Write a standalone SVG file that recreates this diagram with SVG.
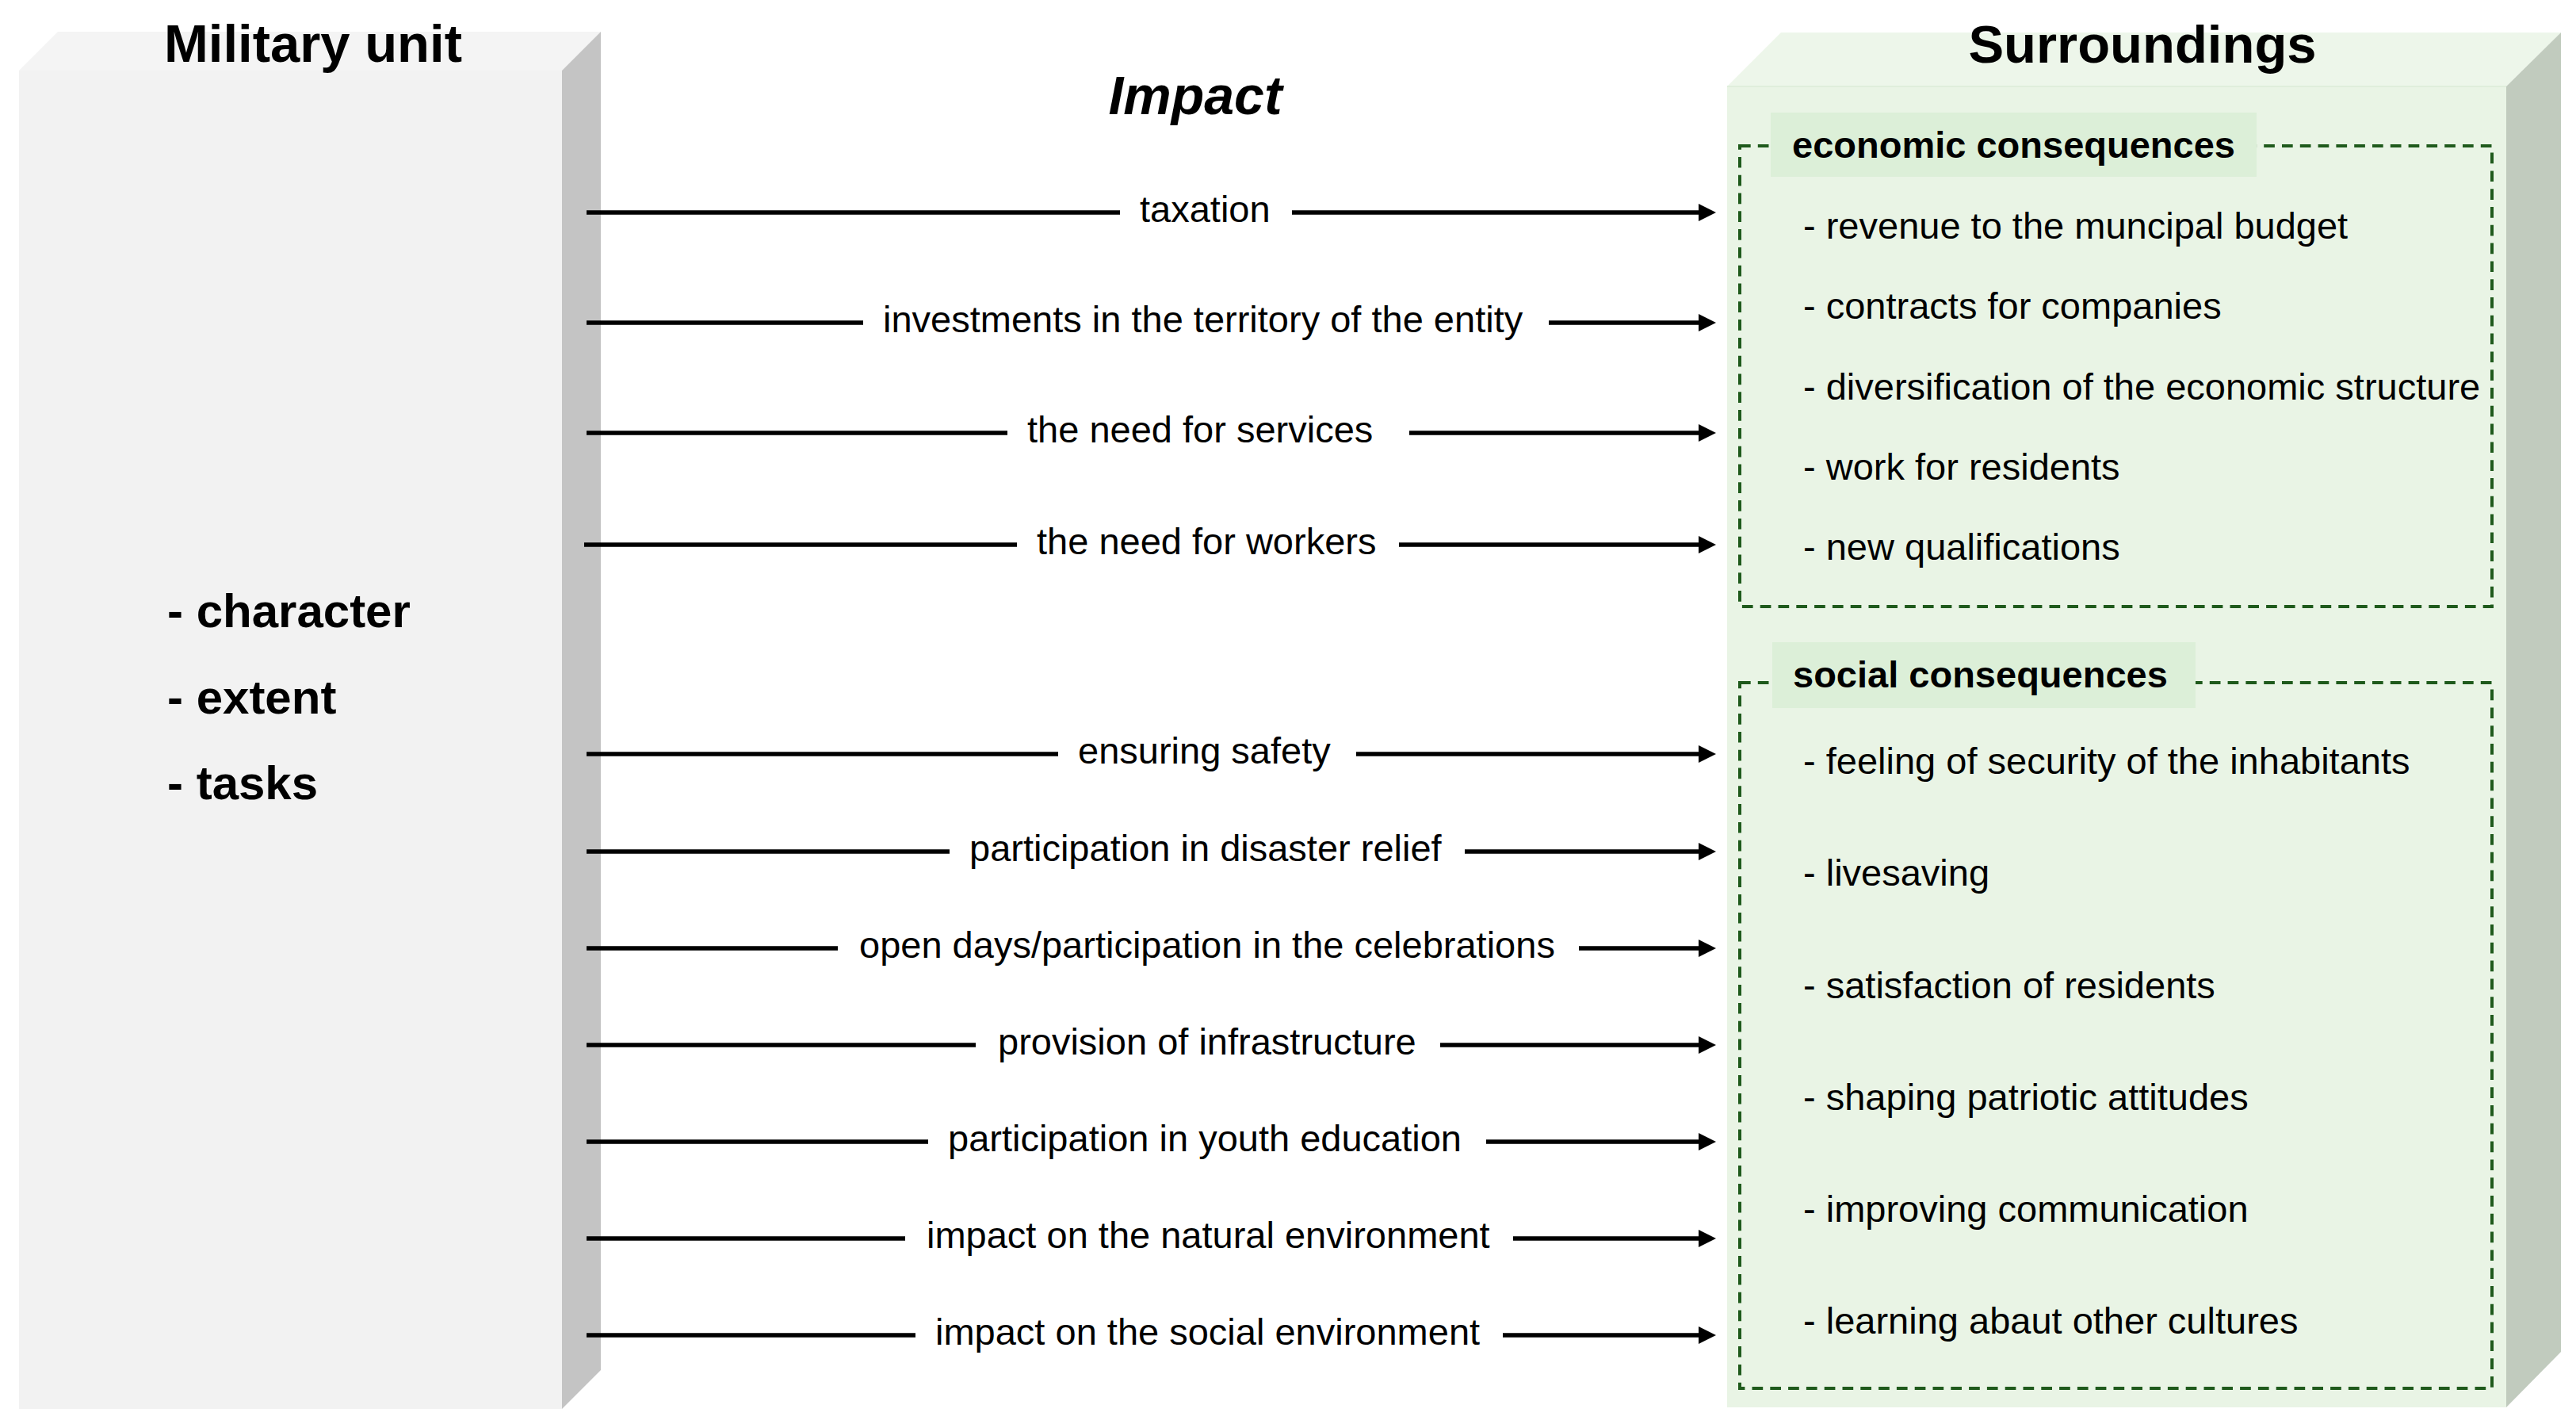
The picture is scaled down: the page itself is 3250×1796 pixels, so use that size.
<svg xmlns="http://www.w3.org/2000/svg" width="3250" height="1796" viewBox="0 0 3250 1796">
<style>
  text { font-family: "Liberation Sans", Arial, sans-serif; fill: #000; }
  .title { font-size: 67px; font-weight: bold; }
  .impact { font-size: 68px; font-weight: bold; font-style: italic; }
  .feat { font-size: 60px; font-weight: bold; }
  .lbl { font-size: 47px; }
  .head { font-size: 47px; font-weight: bold; }
  .item { font-size: 47px; }
  .conn { stroke: #000; stroke-width: 5.5; fill: none; }
  .dash { fill: none; stroke: #1f5a1c; stroke-width: 4; stroke-dasharray: 13.7 9.1; }
  .tag { fill: #dcefd8; }
</style>
<defs>
  <marker id="arrow" markerUnits="userSpaceOnUse" markerWidth="24" markerHeight="24" refX="2" refY="11" orient="auto">
    <path d="M0,0 L22,11 L0,22 Z" fill="#000"/>
  </marker>
</defs>
<rect x="0" y="0" width="3250" height="1796" fill="#ffffff"/>

<g id="military-unit">
  <polygon points="24,89 73,40 758,40 709,89" fill="#f4f4f4"/>
  <polygon points="709,89 758,40 758,1728 709,1777" fill="#c4c4c4"/>
  <rect x="24" y="89" width="685" height="1688" fill="#f2f2f2"/>
  <text class="title" x="395" y="78" text-anchor="middle">Military unit</text>
  <text class="feat" x="211" y="791">- character</text>
  <text class="feat" x="211" y="900">- extent</text>
  <text class="feat" x="211" y="1008">- tasks</text>
</g>

<g id="surroundings">
  <polygon points="2179,109 2247,41 3231,41 3162,109" fill="#edf6ea"/>
  <polygon points="3162,109 3231,41 3231,1705 3162,1775" fill="#c1cbbe"/>
  <rect x="2179" y="109" width="983" height="1666" fill="#e9f4e5"/>
  <line x1="2179" y1="109" x2="3162" y2="109" stroke="#dfeedb" stroke-width="2"/>
  <text class="title" x="2703" y="79" text-anchor="middle">Surroundings</text>
</g>

<g id="economic-consequences">
  <rect class="dash" x="2195" y="184" width="949" height="581"/>
  <rect class="tag" x="2234" y="142" width="613" height="81"/>
  <text class="head" x="2261" y="199">economic consequences</text>
  <text class="item" x="2275" y="301">- revenue to the muncipal budget</text>
  <text class="item" x="2275" y="402">- contracts for companies</text>
  <text class="item" x="2275" y="504">- diversification of the economic structure</text>
  <text class="item" x="2275" y="605">- work for residents</text>
  <text class="item" x="2275" y="706">- new qualifications</text>
</g>

<g id="social-consequences">
  <rect class="dash" x="2195" y="861" width="949" height="890"/>
  <rect class="tag" x="2236" y="810" width="534" height="83"/>
  <text class="head" x="2262" y="867">social consequences</text>
  <text class="item" x="2275" y="976">- feeling of security of the inhabitants</text>
  <text class="item" x="2275" y="1117">- livesaving</text>
  <text class="item" x="2275" y="1259">- satisfaction of residents</text>
  <text class="item" x="2275" y="1400">- shaping patriotic attitudes</text>
  <text class="item" x="2275" y="1541">- improving communication</text>
  <text class="item" x="2275" y="1682">- learning abaut other cultures</text>
</g>

<g id="impact-title">
  <text class="impact" x="1508" y="144" text-anchor="middle">Impact</text>
</g>

<g id="connectors">
  <line class="conn" x1="740" y1="268" x2="1413" y2="268"/>
  <line class="conn" x1="1630" y1="268" x2="2145" y2="268" marker-end="url(#arrow)"/>
  <line class="conn" x1="740" y1="407" x2="1089" y2="407"/>
  <line class="conn" x1="1954" y1="407" x2="2145" y2="407" marker-end="url(#arrow)"/>
  <line class="conn" x1="740" y1="546" x2="1271" y2="546"/>
  <line class="conn" x1="1778" y1="546" x2="2145" y2="546" marker-end="url(#arrow)"/>
  <line class="conn" x1="737" y1="687" x2="1283" y2="687"/>
  <line class="conn" x1="1765" y1="687" x2="2145" y2="687" marker-end="url(#arrow)"/>
  <line class="conn" x1="740" y1="951" x2="1335" y2="951"/>
  <line class="conn" x1="1711" y1="951" x2="2145" y2="951" marker-end="url(#arrow)"/>
  <line class="conn" x1="740" y1="1074" x2="1198" y2="1074"/>
  <line class="conn" x1="1848" y1="1074" x2="2145" y2="1074" marker-end="url(#arrow)"/>
  <line class="conn" x1="740" y1="1196" x2="1057" y2="1196"/>
  <line class="conn" x1="1992" y1="1196" x2="2145" y2="1196" marker-end="url(#arrow)"/>
  <line class="conn" x1="740" y1="1318" x2="1231" y2="1318"/>
  <line class="conn" x1="1817" y1="1318" x2="2145" y2="1318" marker-end="url(#arrow)"/>
  <line class="conn" x1="740" y1="1440" x2="1171" y2="1440"/>
  <line class="conn" x1="1875" y1="1440" x2="2145" y2="1440" marker-end="url(#arrow)"/>
  <line class="conn" x1="740" y1="1562" x2="1142" y2="1562"/>
  <line class="conn" x1="1909" y1="1562" x2="2145" y2="1562" marker-end="url(#arrow)"/>
  <line class="conn" x1="740" y1="1684" x2="1155" y2="1684"/>
  <line class="conn" x1="1896" y1="1684" x2="2145" y2="1684" marker-end="url(#arrow)"/>
</g>

<g id="connector-labels">
  <text class="lbl" x="1438" y="280">taxation</text>
  <text class="lbl" x="1114" y="419">investments in the territory of the entity</text>
  <text class="lbl" x="1296" y="558">the need for services</text>
  <text class="lbl" x="1308" y="699">the need for workers</text>
  <text class="lbl" x="1360" y="963">ensuring safety</text>
  <text class="lbl" x="1223" y="1086">participation in disaster relief</text>
  <text class="lbl" x="1084" y="1208">open days/participation in the celebrations</text>
  <text class="lbl" x="1259" y="1330">provision of infrastructure</text>
  <text class="lbl" x="1196" y="1452">participation in youth education</text>
  <text class="lbl" x="1169" y="1574">impact on the natural environment</text>
  <text class="lbl" x="1180" y="1696">impact on the social environment</text>
</g>
</svg>
